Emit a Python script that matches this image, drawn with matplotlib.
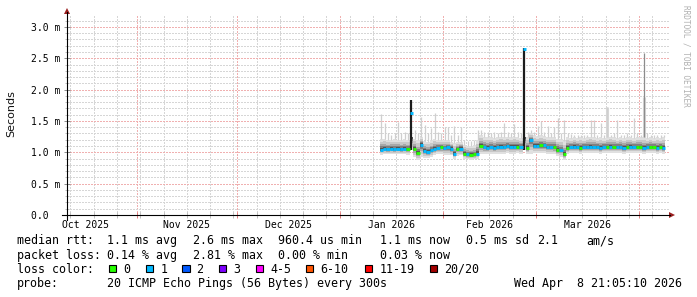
import datetime as dt
import numpy as np
import matplotlib
matplotlib.use("Agg")
import matplotlib.pyplot as plt
import matplotlib.dates as mdates
from matplotlib.patches import Rectangle, Polygon
from matplotlib.lines import Line2D

# ---------------- data ----------------
data_start = dt.datetime(2026, 1, 13)
now = dt.datetime(2026, 4, 8, 21, 5, 10)

median_ms = [1.04, 1.06, 1.05, 1.06, 1.05, 1.06, 1.05, 1.06, 1.05,
             1.62,
             1.06, 0.99, 1.12, 1.02, 1.01, 1.03, 1.06, 1.07, 1.08, 1.07,
             1.08, 1.06, 0.97, 1.05, 1.06, 0.98, 0.97, 0.96, 0.97, 0.98,
             1.10, 1.08, 1.07, 1.08, 1.07, 1.08, 1.09, 1.08, 1.10, 1.09,
             1.09, 1.09, 1.08, 2.65, 1.07, 1.19, 1.10, 1.10, 1.11, 1.11,
             1.08, 1.08, 1.08, 1.04, 1.03, 0.97,
             1.07, 1.08, 1.09, 1.08, 1.07, 1.08, 1.08, 1.09, 1.08, 1.08,
             1.07, 1.08, 1.08, 1.09, 1.08, 1.08, 1.08, 1.07, 1.08, 1.09,
             1.08, 1.08, 1.08, 1.07, 1.08, 1.08, 1.08, 1.07, 1.08, 1.07]

loss_index = [1, 1, 1, 1, 1, 1, 1, 1, 0,
              1,
              0, 0, 1, 1, 1, 1, 1, 1, 0, 1,
              1, 1, 1, 0, 1, 0, 1, 0, 0, 1,
              0, 1, 1, 1, 1, 1, 1, 1, 1, 1,
              1, 0, 1, 1, 0, 1, 1, 1, 0, 1,
              1, 1, 0, 0, 1, 0,
              0, 1, 1, 1, 0, 1, 1, 1, 1, 1,
              1, 1, 0, 1, 0, 1, 1, 1, 0, 1,
              1, 0, 0, 1, 1, 0, 0, 1, 0, 1]

smoke_lo = [0.96, 0.97, 0.97, 0.97, 0.97, 0.97, 0.97, 0.97, 0.96,
            1.03,
            0.92, 0.88, 0.92, 0.91, 0.91, 0.93, 0.96, 0.97, 0.97, 0.96,
            0.96, 0.95, 0.90, 0.94, 0.95, 0.90, 0.89, 0.88, 0.89, 0.90,
            0.97, 0.97, 0.97, 0.98, 0.97, 0.98, 0.98, 0.98, 0.99, 0.98,
            0.98, 0.99, 0.98, 1.03, 0.97, 0.98, 0.99, 0.99, 0.99, 0.99,
            0.98, 0.98, 0.97, 0.94, 0.93, 0.88,
            0.98, 0.99, 0.99, 0.99, 0.98, 0.99, 0.99, 0.99, 0.99, 0.99,
            0.98, 0.99, 0.99, 0.99, 0.99, 0.99, 0.99, 0.98, 0.99, 0.99,
            0.99, 0.99, 0.99, 0.98, 0.99, 0.99, 0.99, 0.98, 0.99, 0.98]

smoke_hi = [1.22, 1.22, 1.20, 1.20, 1.21, 1.20, 1.20, 1.21, 1.20,
            1.25,
            1.22, 1.20, 1.25, 1.18, 1.17, 1.19, 1.22, 1.20, 1.19, 1.19,
            1.19, 1.17, 1.15, 1.16, 1.17, 1.12, 1.10, 1.10, 1.11, 1.20,
            1.28, 1.25, 1.24, 1.24, 1.23, 1.24, 1.25, 1.25, 1.25, 1.24,
            1.25, 1.24, 1.23, 1.25, 1.24, 1.30, 1.27, 1.26, 1.27, 1.26,
            1.25, 1.24, 1.24, 1.22, 1.21, 1.18,
            1.24, 1.23, 1.24, 1.23, 1.24, 1.23, 1.24, 1.25, 1.24, 1.23,
            1.24, 1.23, 1.24, 1.25, 1.24, 1.23, 1.24, 1.23, 1.24, 1.24,
            1.23, 1.24, 1.25, 1.24, 1.23, 1.24, 1.23, 1.24, 1.23, 1.24]

ping_max = [1.61, 1.46, 1.30, 1.28, 1.30, 1.49, 1.30, 1.32, 1.30,
            1.83,
            1.35, 1.30, 1.57, 1.44, 1.30, 1.39, 1.62, 1.32, 1.30, 1.41,
            1.41, 1.28, 1.42, 1.28, 1.41, 1.20, 1.18, 1.18, 1.20, 1.36,
            1.35, 1.32, 1.33, 1.30, 1.32, 1.30, 1.33, 1.46, 1.32, 1.30,
            1.45, 1.32, 1.30, 2.66, 1.32, 1.35, 1.32, 1.42, 1.50, 1.33,
            1.42, 1.30, 1.41, 1.54, 1.30, 1.52,
            1.30, 1.29, 1.28, 1.28, 1.28, 1.27, 1.28, 1.52, 1.52, 1.28,
            1.46, 1.28, 1.73, 1.28, 1.30, 1.52, 1.28, 1.28, 1.30, 1.28,
            1.54, 1.30, 1.28, 2.58, 1.30, 1.28, 1.28, 1.28, 1.28, 1.27]

loss_labels = ["0", "1", "2", "3", "4-5", "6-10", "11-19", "20/20"]
loss_colors = ["#26ff00", "#00b8ff", "#0059ff", "#7e00ff",
               "#ff00ff", "#ff5500", "#ff0000", "#a10000"]

month_starts = [dt.datetime(2025, 10, 1), dt.datetime(2025, 11, 1),
                dt.datetime(2025, 12, 1), dt.datetime(2026, 1, 1),
                dt.datetime(2026, 2, 1), dt.datetime(2026, 3, 1),
                dt.datetime(2026, 4, 1)]
month_labels = ["Oct 2025", "Nov 2025", "Dec 2025", "Jan 2026",
                "Feb 2026", "Mar 2026"]
y_major = [0.0, 0.5, 1.0, 1.5, 2.0, 2.5, 3.0]
y_labels = ["0.0  ", "0.5 m", "1.0 m", "1.5 m", "2.0 m", "2.5 m", "3.0 m"]

x_left = dt.datetime(2025, 10, 10, 22, 50)
x_right = dt.datetime(2026, 4, 10, 0, 30)
y_top = 3.19

# ---------------- figure ----------------
W, H = 697, 297
fig = plt.figure(figsize=(W / 100, H / 100), dpi=100)
fig.patch.set_facecolor("white")

def fx(x):
    return x / W

def fy(y):
    return 1 - y / H

ax_l, ax_r, ax_t, ax_b = 67, 669, 15, 215
ax = fig.add_axes([fx(ax_l), fy(ax_b), (ax_r - ax_l) / W, (ax_b - ax_t) / H])
ax.set_facecolor("white")
for s in ax.spines.values():
    s.set_visible(False)

ax.set_xlim(mdates.date2num(x_left), mdates.date2num(x_right))
ax.set_ylim(0, y_top)

# grid
minor_c = "#d6d6d6"
major_c = "#f0b0b0"
dots = (0, (1, 1.2))
sundays = []
d = dt.datetime(2025, 10, 12)
while d < x_right:
    sundays.append(mdates.date2num(d))
    d += dt.timedelta(days=7)
mstarts = [mdates.date2num(m) for m in month_starts[1:]]
ax.set_xticks(mstarts)
ax.set_xticks(sundays, minor=True)
ax.set_yticks(y_major)
ax.set_yticks(np.arange(0, 3.15, 0.1), minor=True)
ax.grid(True, which="minor", color=minor_c, lw=0.75, ls=dots, zorder=0,
        antialiased=False)
ax.grid(True, which="major", color=major_c, lw=0.75, ls=dots, zorder=0,
        antialiased=False)
ax.set_axisbelow(True)
ax.tick_params(axis="x", which="major", direction="inout", length=4,
               width=0.72, color="#e08080", labelbottom=False)
ax.tick_params(axis="x", which="minor", direction="inout", length=4,
               width=0.72, color="#c0c0c0")
ax.tick_params(axis="y", which="major", direction="inout", length=5,
               width=0.72, color="#909090", pad=2.6)
ax.tick_params(axis="y", which="minor", direction="inout", length=3,
               width=0.72, color="#c0c0c0")
ax.set_yticklabels(y_labels, family="DejaVu Sans Mono", fontsize=7)

mids = [(mdates.date2num(month_starts[k]) + mdates.date2num(month_starts[k + 1])) / 2
        for k in range(len(month_labels))]
sec = ax.secondary_xaxis("bottom")
sec.set_xticks(mids)
sec.set_xticklabels(month_labels, family="DejaVu Sans Mono", fontsize=7)
sec.tick_params(length=0, pad=3.3)
for s in sec.spines.values():
    s.set_visible(False)

# ---------------- smoke ----------------
n = len(median_ms)
x0 = np.array([mdates.date2num(data_start + dt.timedelta(days=i)) for i in range(n)])
x_now = mdates.date2num(now)
x1 = np.minimum(x0 + 1.0, x_now)
edges = np.append(x0, x1[-1])
med = np.array(median_ms)
lo = np.array(smoke_lo)
hi = np.array(smoke_hi)
mx = np.array(ping_max)
center = np.clip(med, lo, hi)

layers = [(1.00, "#e0e0e0"), (0.72, "#c8c8c8"), (0.48, "#a8a8a8"),
          (0.30, "#808080"), (0.16, "#555555")]
for f, c in layers:
    bot = center - f * (center - lo)
    top = center + f * (hi - center)
    ax.fill_between(edges, np.append(bot, bot[-1]), np.append(top, top[-1]),
                    step="post", color=c, lw=0, zorder=2)

mids_step = (x0 + x1) / 2
normal = med <= hi
spike_col = np.where(mx > 2.0, "#8c8c8c", "#cfcfcf")
ax.vlines(mids_step[normal], hi[normal], mx[normal], colors=spike_col[normal],
          lw=0.9, zorder=3)
big = normal & (mx > 1.7)
ax.vlines(mids_step[big], hi[big], np.minimum(mx[big], 1.89), colors="#d8d8d8",
          lw=2.2, zorder=2.5)
ax.vlines(mids_step[~normal], lo[~normal], mx[~normal], colors="#1c1c1c",
          lw=1.6, zorder=4)

ax.hlines(med, x0, x1, colors=[loss_colors[k] for k in loss_index],
          lw=2.1, zorder=5)

# ---------------- axes lines & arrows ----------------
arrow_c = "#9a1f1f"
fig.add_artist(Line2D([fx(62), fx(670)], [fy(215), fy(215)], color="black", lw=0.8))
fig.add_artist(Line2D([fx(67), fx(67)], [fy(220), fy(12)], color="black", lw=0.8))
fig.add_artist(Polygon([[fx(669), fy(212)], [fx(675), fy(215)], [fx(669), fy(218)]],
                       closed=True, color=arrow_c, lw=0))
fig.add_artist(Polygon([[fx(64), fy(14)], [fx(67), fy(8)], [fx(70), fy(14)]],
                       closed=True, color=arrow_c, lw=0))

# ---------------- texts ----------------
fig.text(fx(11), fy(114), "Seconds", rotation=90, ha="center", va="center",
         fontsize=8, family="DejaVu Sans", color="#111111")
fig.text(fx(686), fy(5), "RRDTOOL / TOBI OETIKER", rotation=270, ha="center",
         va="top", fontsize=5.6, family="DejaVu Sans Mono", color="#b0b0b0")

mono = dict(family="DejaVu Sans Mono", fontsize=8.4, color="black", va="baseline")
rows = [244.2, 258.6, 273.0, 287.4]
row1 = [(16.7, "median rtt:"), (106.7, "1.1 ms avg"), (192.7, "2.6 ms max"),
        (278.3, "960.4 us min"), (380.0, "1.1 ms now"), (466.0, "0.5 ms sd"),
        (536.7, "2.1"), (586.0, "am/s")]
row2 = [(16.7, "packet loss:"), (106.7, "0.14 % avg"), (192.7, "2.81 % max"),
        (278.3, "0.00 % min"), (380.0, "0.03 % now")]
for x, s in row1:
    fig.text(fx(x), fy(rows[0]), s, ha="left", **mono)
for x, s in row2:
    fig.text(fx(x), fy(rows[1]), s, ha="left", **mono)

fig.text(fx(16.7), fy(rows[2]), "loss color:", ha="left", **mono)
box_x = [109, 146, 182.3, 219, 255.7, 306, 365, 430]
for bx, lab, col in zip(box_x, loss_labels, loss_colors):
    fig.add_artist(Rectangle((fx(bx), fy(272.3)), 7.3 / W, 7.6 / H,
                             transform=fig.transFigure, facecolor=col,
                             edgecolor="black", lw=0.8))
    fig.text(fx(bx + 14.3), fy(rows[2]), lab, ha="left", **mono)

fig.text(fx(16.7), fy(rows[3]), "probe:", ha="left", **mono)
fig.text(fx(106.7), fy(rows[3]), "20 ICMP Echo Pings (56 Bytes) every 300s",
         ha="left", **mono)
fig.text(fx(681.7), fy(rows[3]), "Wed Apr  8 21:05:10 2026", ha="right", **mono)

fig.savefig("out.png", dpi=100, facecolor="white")
